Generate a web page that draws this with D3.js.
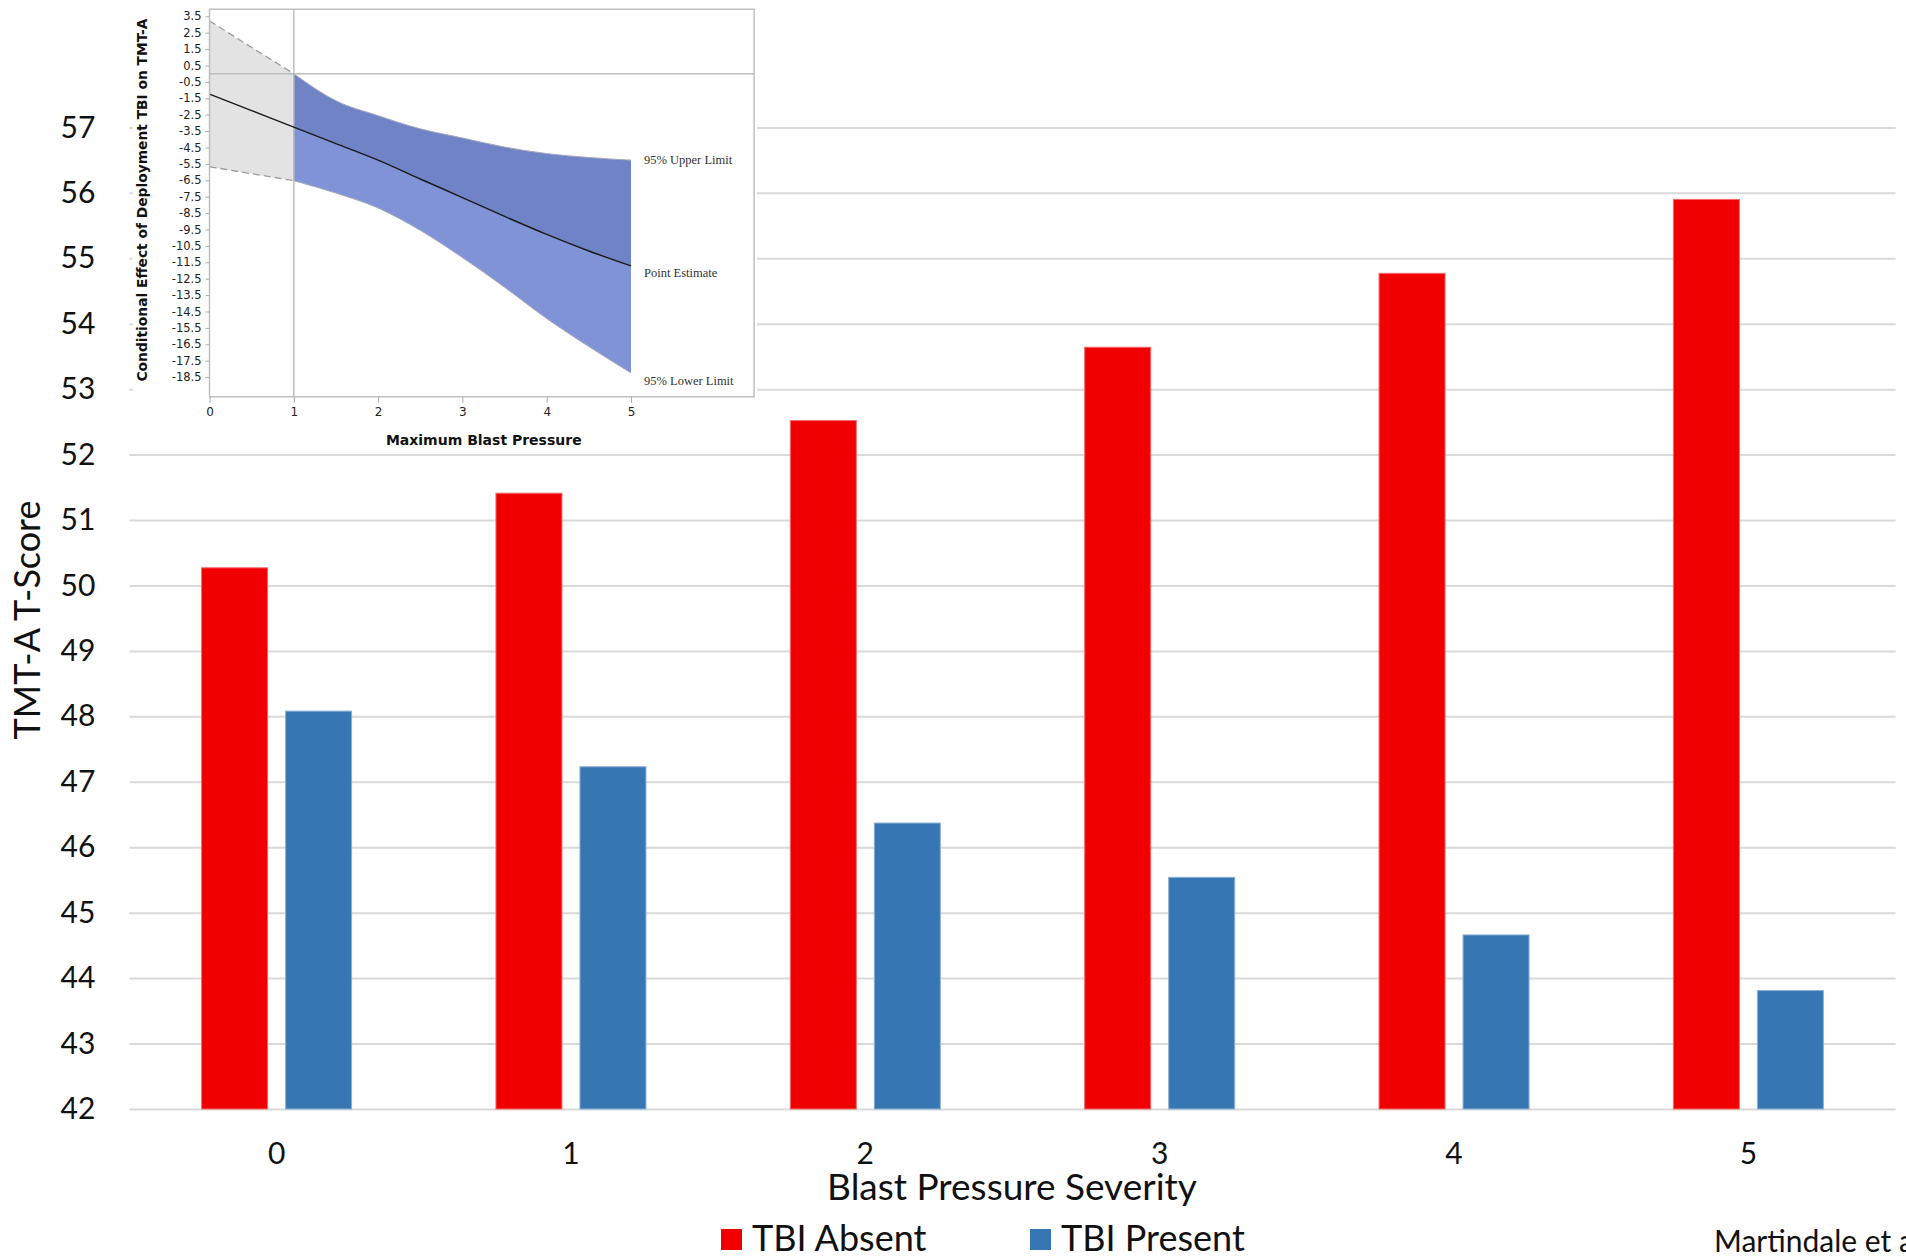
<!DOCTYPE html>
<html>
<head>
<meta charset="utf-8">
<script src="https://cdn.jsdelivr.net/npm/d3@7"></script>
<style>
  body { margin: 0; background: #fff; }
  svg { display: block; }
</style>
</head>
<body>
<svg id="chart" width="1906" height="1258"></svg>
<script>
// Main chart data
const categories = ["0", "1", "2", "3", "4", "5"];
const seriesNames = ["TBI Absent", "TBI Present"];
const tbiAbsent = [50.27, 51.41, 52.52, 53.64, 54.77, 55.90];
const tbiPresent = [48.08, 47.23, 46.37, 45.54, 44.66, 43.81];
const yTicks = [42, 43, 44, 45, 46, 47, 48, 49, 50, 51, 52, 53, 54, 55, 56, 57];

// Inset (conditional effect) data
const insetX = [0, 0.5, 1, 1.5, 2, 2.5, 3, 3.5, 4, 4.5, 5];
const insetUpper = [3.22, 1.6, 0.0, -1.65, -2.56, -3.36, -3.92, -4.47, -4.87, -5.11, -5.27];
const insetEstimate = [-1.25, -2.25, -3.26, -4.26, -5.27, -6.42, -7.55, -8.7, -9.8, -10.81, -11.72];
const insetLower = [-5.67, -6.1, -6.52, -7.28, -8.19, -9.55, -11.21, -13.02, -14.93, -16.64, -18.25];
const insetYTicks = [3.5, 2.5, 1.5, 0.5, -0.5, -1.5, -2.5, -3.5, -4.5, -5.5, -6.5, -7.5, -8.5,
  -9.5, -10.5, -11.5, -12.5, -13.5, -14.5, -15.5, -16.5, -17.5, -18.5];
const insetXTicks = [0, 1, 2, 3, 4, 5];

const svg = d3.select("#chart");
const mainFont = "Lato, 'Open Sans', sans-serif";

// ---- main bar chart ----
const plotLeft = 129.4, plotRight = 1895.6, plotTop = 127.4, plotBottom = 1109;

const x = d3.scaleBand().domain(categories).range([plotLeft, plotRight])
  .paddingInner(0.4904).paddingOuter(0.2452);
const xs = d3.scaleBand().domain(seriesNames).range([0, x.bandwidth()]).paddingInner(0.2143);
const y = d3.scaleLinear().domain([42, 57]).range([plotBottom, plotTop]);
const color = d3.scaleOrdinal().domain(seriesNames).range(["#f00000", "#3677b3"]);
const edge = d3.scaleOrdinal().domain(seriesNames).range(["#f46a6a", "#8db0d6"]);

// gridlines + y labels
const yAxis = svg.append("g")
  .attr("transform", `translate(${plotLeft},0)`)
  .call(d3.axisLeft(y).tickValues(yTicks).tickSize(-(plotRight - plotLeft)).tickPadding(34));
yAxis.select(".domain").remove();
yAxis.selectAll(".tick line").attr("stroke", "#d9d9d9").attr("stroke-width", 2);
yAxis.selectAll(".tick text")
  .attr("fill", "#111").style("font-family", mainFont).style("font-size", "30px");

// bars
const rows = categories.map((c, i) => ({ cat: c, values: [tbiAbsent[i], tbiPresent[i]] }));
const groups = svg.append("g").selectAll("g").data(rows).join("g")
  .attr("transform", d => `translate(${x(d.cat)},0)`);
groups.selectAll("rect")
  .data(d => d.values.map((v, j) => ({ name: seriesNames[j], value: v })))
  .join("rect")
  .attr("x", d => xs(d.name))
  .attr("width", xs.bandwidth())
  .attr("y", d => y(d.value))
  .attr("height", d => y(42) - y(d.value))
  .attr("fill", d => color(d.name))
  .attr("stroke", d => edge(d.name))
  .attr("stroke-width", 1);

// x axis labels
const xAxis = svg.append("g")
  .attr("transform", `translate(0,${plotBottom})`)
  .call(d3.axisBottom(x).tickSize(0).tickPadding(34));
xAxis.select(".domain").remove();
xAxis.selectAll(".tick text")
  .attr("fill", "#111").style("font-family", mainFont).style("font-size", "30px");

// axis titles
svg.append("text")
  .attr("transform", "translate(40,620) rotate(-90)")
  .attr("text-anchor", "middle")
  .style("font-family", mainFont).style("font-size", "36px").attr("fill", "#111")
  .text("TMT-A T-Score");

svg.append("text")
  .attr("x", 1012).attr("y", 1200)
  .attr("text-anchor", "middle")
  .style("font-family", mainFont).style("font-size", "37px").attr("fill", "#111")
  .text("Blast Pressure Severity");

// legend
const legendX = [721, 1030];
const legend = svg.append("g").selectAll("g").data(seriesNames).join("g")
  .attr("transform", (d, i) => `translate(${legendX[i]},1229)`);
legend.append("rect").attr("width", 21).attr("height", 21).attr("fill", d => color(d));
legend.append("text")
  .attr("x", 31).attr("y", 22)
  .style("font-family", mainFont).style("font-size", "36px").attr("fill", "#111")
  .text(d => d);

svg.append("text")
  .attr("x", 1714).attr("y", 1252)
  .style("font-family", mainFont).style("font-size", "30px").attr("fill", "#111")
  .text("Martindale et al.");

// ---- inset: conditional effect plot ----
const inset = svg.append("g");
inset.append("rect").attr("x", 133).attr("y", 0).attr("width", 624).attr("height", 450).attr("fill", "#fff");

const xIn = d3.scaleLinear().domain([0, 5]).range([209.5, 631]);
const yIn = d3.scaleLinear().domain([-18.5, 3.5]).range([377.1, 16.3]);
const frameL = xIn(0), frameR = xIn(6.46), frameT = yIn(3.93), frameB = yIn(-19.7);

const pts = insetX.map((v, i) => ({ x: v, up: insetUpper[i], est: insetEstimate[i], lo: insetLower[i] }));
const grayPts = pts.filter(d => d.x <= 1);
const bluePts = pts.filter(d => d.x >= 1);

const curve = d3.curveMonotoneX;
inset.append("path").datum(grayPts)
  .attr("fill", "#e3e3e3")
  .attr("d", d3.area().curve(curve).x(d => xIn(d.x)).y0(d => yIn(d.lo)).y1(d => yIn(d.up)));
inset.append("path").datum(bluePts)
  .attr("fill", "#7083c7")
  .attr("d", d3.area().curve(curve).x(d => xIn(d.x)).y0(d => yIn(d.est)).y1(d => yIn(d.up)));
inset.append("path").datum(bluePts)
  .attr("fill", "#8193d7")
  .attr("d", d3.area().curve(curve).x(d => xIn(d.x)).y0(d => yIn(d.lo)).y1(d => yIn(d.est)));

// band edges
["up", "lo"].forEach(k => {
  inset.append("path").datum(grayPts)
    .attr("fill", "none").attr("stroke", "#9c9c9c").attr("stroke-width", 1.3)
    .attr("stroke-dasharray", "7,4")
    .attr("d", d3.line().curve(curve).x(d => xIn(d.x)).y(d => yIn(d[k])));
  inset.append("path").datum(bluePts)
    .attr("fill", "none").attr("stroke", "#a4a8bc").attr("stroke-width", 1)
    .attr("d", d3.line().curve(curve).x(d => xIn(d.x)).y(d => yIn(d[k])));
});

// reference lines at effect 0 and pressure 1
inset.append("line")
  .attr("x1", frameL).attr("x2", frameR).attr("y1", yIn(0)).attr("y2", yIn(0))
  .attr("stroke", "#bdbdbd").attr("stroke-width", 1.5);
inset.append("line")
  .attr("x1", xIn(1)).attr("x2", xIn(1)).attr("y1", frameT).attr("y2", frameB)
  .attr("stroke", "#bdbdbd").attr("stroke-width", 1.5);

// point estimate
inset.append("path").datum(pts)
  .attr("fill", "none").attr("stroke", "#1a1a1a").attr("stroke-width", 1.4)
  .attr("d", d3.line().curve(curve).x(d => xIn(d.x)).y(d => yIn(d.est)));

// frame
inset.append("rect")
  .attr("x", frameL).attr("y", frameT)
  .attr("width", frameR - frameL).attr("height", frameB - frameT)
  .attr("fill", "none").attr("stroke", "#bcbcbc").attr("stroke-width", 1.4);

// inset axes
const inYAxis = inset.append("g")
  .attr("transform", `translate(${frameL},0)`)
  .call(d3.axisLeft(yIn).tickValues(insetYTicks).tickSize(4).tickPadding(4)
    .tickFormat(d => d.toFixed(1)));
inYAxis.select(".domain").remove();
inYAxis.selectAll(".tick line").attr("stroke", "#aaa");
inYAxis.selectAll(".tick text").attr("fill", "#222")
  .style("font-family", "'DejaVu Sans', sans-serif").style("font-size", "11.5px");

const inXAxis = inset.append("g")
  .attr("transform", `translate(0,${frameB})`)
  .call(d3.axisBottom(xIn).tickValues(insetXTicks).tickSize(6).tickPadding(5).tickFormat(d3.format("d")));
inXAxis.select(".domain").remove();
inXAxis.selectAll(".tick line").attr("stroke", "#aaa");
inXAxis.selectAll(".tick text").attr("fill", "#222")
  .style("font-family", "'DejaVu Sans', sans-serif").style("font-size", "12px");

inset.append("text")
  .attr("transform", "translate(147,200) rotate(-90)")
  .attr("text-anchor", "middle")
  .style("font-family", "'DejaVu Sans', sans-serif").style("font-size", "13.8px")
  .style("font-weight", "bold").attr("fill", "#111")
  .text("Conditional Effect of Deployment TBI on TMT-A");

inset.append("text")
  .attr("x", (frameL + frameR) / 2 + 2).attr("y", 445)
  .attr("text-anchor", "middle")
  .style("font-family", "'DejaVu Sans', sans-serif").style("font-size", "14px")
  .style("font-weight", "bold").attr("fill", "#111")
  .text("Maximum Blast Pressure");

// band labels
const bandLabels = [
  { text: "95% Upper Limit", y: 164 },
  { text: "Point Estimate", y: 277 },
  { text: "95% Lower Limit", y: 385 }
];
inset.selectAll("text.band").data(bandLabels).join("text")
  .attr("class", "band")
  .attr("x", 644).attr("y", d => d.y)
  .style("font-family", "'Liberation Serif', serif").style("font-size", "12.5px")
  .attr("fill", "#333")
  .text(d => d.text);
</script>
</body>
</html>
